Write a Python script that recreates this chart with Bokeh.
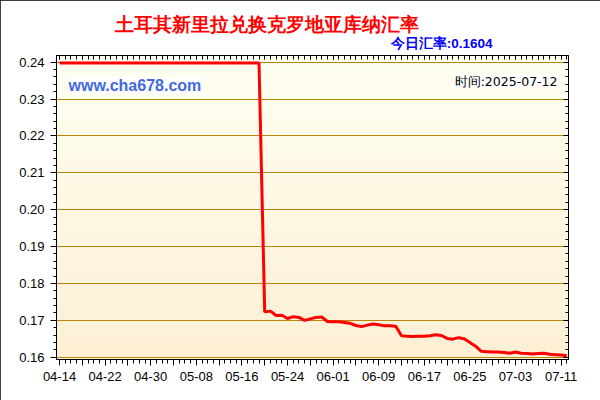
import numpy as np
import pandas as pd
from bokeh.plotting import figure
from bokeh.models import (FixedTicker, LinearAxis, Label, Range1d, PrintfTickFormatter,
                          Title, CustomJSTickFormatter)
from bokeh.embed import file_html
from bokeh.resources import INLINE

# ---------------- data ----------------
dates = pd.date_range("2025-04-14", "2025-07-12", freq="D")
date_labels = [d.strftime("%m-%d") for d in dates]

rates = [
    0.2398, 0.2398, 0.2398, 0.2398, 0.2398, 0.2398, 0.2398, 0.2398, 0.2398, 0.2398,
    0.2398, 0.2398, 0.2398, 0.2398, 0.2398, 0.2398, 0.2398, 0.2398, 0.2398, 0.2398,
    0.2398, 0.2398, 0.2398, 0.2398, 0.2398, 0.2398, 0.2398, 0.2398, 0.2398, 0.2398,
    0.2398, 0.2398, 0.2398, 0.2398, 0.2398, 0.2398,
    0.1723, 0.1725, 0.1713, 0.1714, 0.1705, 0.1710, 0.1708, 0.1700, 0.1704, 0.1708,
    0.1709, 0.1697, 0.1696, 0.1696, 0.1694, 0.1692, 0.1686, 0.1683, 0.1687, 0.1690,
    0.1688, 0.1685, 0.1685, 0.1684, 0.1658, 0.1657, 0.1656, 0.1657, 0.1657, 0.1658,
    0.1661, 0.1659, 0.1651, 0.1649, 0.1653, 0.1650, 0.1640, 0.1630, 0.1616, 0.1615,
    0.1614, 0.1614, 0.1613, 0.1611, 0.1614, 0.1611, 0.1610, 0.1609, 0.1610, 0.1611,
    0.1608, 0.1607, 0.1606, 0.1604,
]

x_tick_labels = ["04-14", "04-22", "04-30", "05-08", "05-16", "05-24",
                 "06-01", "06-09", "06-17", "06-25", "07-03", "07-11"]
y_ticks = [0.16, 0.17, 0.18, 0.19, 0.20, 0.21, 0.22, 0.23, 0.24]
y_minor = [0.160, 0.162, 0.164, 0.166, 0.168, 0.170, 0.172, 0.174, 0.176, 0.178,
           0.180, 0.182, 0.184, 0.186, 0.188, 0.190, 0.192, 0.194, 0.196, 0.198,
           0.200, 0.202, 0.204, 0.206, 0.208, 0.210, 0.212, 0.214, 0.216, 0.218,
           0.220, 0.222, 0.224, 0.226, 0.228, 0.230, 0.232, 0.234, 0.236, 0.238, 0.240]

title_text = "土耳其新里拉兑换克罗地亚库纳汇率"
rate_text = "今日汇率:%.4f" % rates[-1]
site_text = "www.cha678.com"
time_text = "时间:2025-07-12"

# ---------------- figure ----------------
X0, X1 = -0.53, 89.3
Y0, Y1 = 0.15938, 0.24182
W, H = 600, 400
ML, MR, MT, MB = 56, 32, 55, 41
FW, FH = W - ML - MR, H - MT - MB


def dx(px):  # canvas pixel -> data x
    return X0 + (px - ML) * (X1 - X0) / FW


def dy(py):  # canvas pixel -> data y
    return Y1 - (py - MT) * (Y1 - Y0) / FH


p = figure(width=W, height=H, output_backend="svg", toolbar_location=None,
           x_range=Range1d(X0, X1), y_range=Range1d(Y0, Y1), title=None,
           min_border_left=ML, min_border_right=MR,
           min_border_top=MT, min_border_bottom=MB)
p.background_fill_color = "#FEF7E4"
p.border_fill_color = "white"
p.outline_line_color = "black"
p.outline_line_width = 1
p.styles = {"outline": "1px solid black", "outline-offset": "-1px"}

# gradient background
n = 200
img = np.zeros((n, 1), dtype=np.uint32)
view = img.view(dtype=np.uint8).reshape((n, 1, 4))
top_c = np.array([255, 255, 242])
bot_c = np.array([253, 240, 213])
for i in range(n):
    t = i / (n - 1)
    c = bot_c * (1 - t) + top_c * t
    view[i, 0, 0:3] = c.astype(np.uint8)
    view[i, 0, 3] = 255
p.image_rgba(image=[img], x=X0, y=Y0, dw=X1 - X0, dh=Y1 - Y0, level="image")

# tickers
major_x = list(range(0, len(dates), 4))
minor_x = list(range(0, len(dates)))
xticker = FixedTicker(ticks=major_x, minor_ticks=minor_x)
yticker = FixedTicker(ticks=y_ticks, minor_ticks=y_minor)
label_pos = {date_labels.index(lab): lab for lab in x_tick_labels}
overrides = {i: label_pos.get(i, "") for i in major_x}

xa = p.xaxis[0]
xa.ticker = xticker
xa.major_label_overrides = overrides
xa.major_tick_out = 6
xa.major_tick_in = 0
xa.minor_tick_out = 4
xa.minor_tick_in = 0
xa.major_label_standoff = 6
xa.major_label_text_font = "Liberation Sans"
xa.major_label_text_font_size = "13px"
xa.major_label_text_color = "black"
xa.axis_line_color = "black"
xa.major_tick_line_color = "black"
xa.minor_tick_line_color = "black"

ya = p.yaxis[0]
ya.ticker = yticker
ya.formatter = PrintfTickFormatter(format="%.2f")
ya.major_tick_out = 6
ya.major_tick_in = 0
ya.minor_tick_out = 3
ya.minor_tick_in = 0
ya.major_label_standoff = 6
ya.major_label_text_font = "Liberation Sans"
ya.major_label_text_font_size = "13px"
ya.major_label_text_color = "black"
ya.axis_line_color = "black"
ya.major_tick_line_color = "black"
ya.minor_tick_line_color = "black"

blank = CustomJSTickFormatter(code="return ''")
top = LinearAxis(ticker=xticker, formatter=blank, major_tick_in=4, major_tick_out=0,
                 minor_tick_in=4, minor_tick_out=0, major_label_standoff=0,
                 axis_line_color="black")
p.add_layout(top, "above")
right = LinearAxis(ticker=yticker, formatter=blank, major_tick_in=5, major_tick_out=0,
                   minor_tick_in=3, minor_tick_out=0, major_label_standoff=0,
                   axis_line_color="black")
p.add_layout(right, "right")

p.xgrid.visible = False
p.ygrid.ticker = yticker
p.ygrid.grid_line_color = "#B8860B"
p.ygrid.grid_line_width = 1
p.ygrid.grid_line_alpha = 1

# line
p.line(list(range(len(rates))), rates, line_color="#FF0000", line_width=3)

# titles above the frame
p.add_layout(Title(text=rate_text, align="right", offset=76, standoff=9,
                   text_color="#0000FF", text_font="Liberation Sans",
                   text_font_style="bold", text_font_size="13.5px"), "above")
p.add_layout(Title(text=title_text, align="left", offset=58, standoff=-10,
                   text_color="#FF0000", text_font="Liberation Sans",
                   text_font_style="bold", text_font_size="18.5px"), "above")

# labels inside the frame
p.add_layout(Label(x=dx(68), y=dy(84.5), text=site_text, text_align="left",
                   text_baseline="middle", text_color="#4169E1",
                   text_font="Liberation Sans", text_font_style="bold",
                   text_font_size="16px", background_fill_color="white"))
p.add_layout(Label(x=dx(557), y=dy(81), text=time_text, text_align="right",
                   text_baseline="middle", text_color="black",
                   text_font="DejaVu Sans",
                   text_font_size="12.5px", background_fill_color="white"))

open("out.html", "w").write(file_html(p, INLINE))
